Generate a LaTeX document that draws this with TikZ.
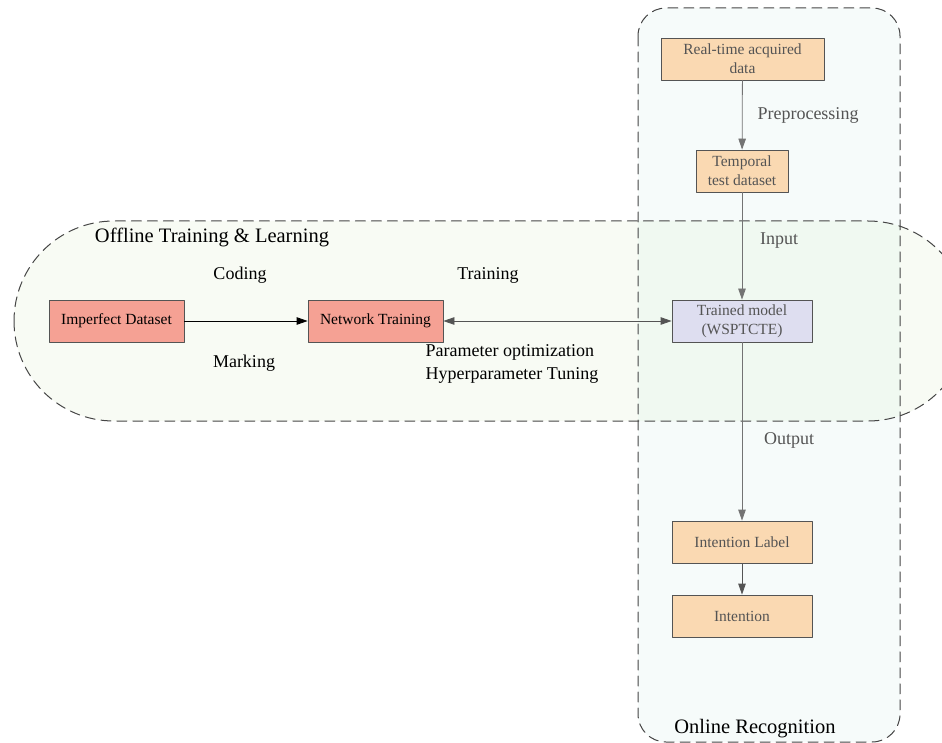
\documentclass[tikz,border=0pt]{standalone}
\usepackage{fontspec}
\setmainfont{Liberation Serif}
\usetikzlibrary{arrows.meta}
\definecolor{ffa195}{rgb}{0.96,0.63,0.58}
\definecolor{fad9b3}{rgb}{0.98,0.85,0.70}
\definecolor{dddff0}{rgb}{0.87,0.87,0.94}
\definecolor{f6faf2}{rgb}{0.972,0.985,0.957}
\definecolor{f5fbfa}{rgb}{0.966,0.986,0.982}
\definecolor{eff8ee}{rgb}{0.942,0.978,0.947}
\definecolor{qqgrey}{rgb}{0.33,0.33,0.33}
\definecolor{ttgrey}{rgb}{0.45,0.45,0.45}
\definecolor{ddgrey}{rgb}{0.27,0.27,0.27}

\begin{document}
\begin{tikzpicture}[line cap=round,line join=round,>={Triangle[length=11pt,width=7.5pt]},x=1pt,y=-1pt,
    box/.style={draw=qqgrey,line width=0.8pt,minimum height=42pt,inner sep=2pt,align=center,font=\fontsize{15.5}{19}\selectfont},
    redbox/.style={box,fill=ffa195,minimum width=135pt},
    bluebox/.style={box,fill=dddff0,text=qqgrey,minimum width=140pt},
    orangebox/.style={box,fill=fad9b3,text=qqgrey,minimum width=140pt},
    lbl/.style={font=\fontsize{18}{23}\selectfont},
    title/.style={font=\fontsize{20.5}{24}\selectfont},
    region/.style={dash pattern=on 10pt off 6pt,line width=1pt,color=ddgrey}]
      \useasboundingbox (0,0) rectangle (942,743);
      % regions
      \begin{scope}
      \clip (0,0) rectangle (942,743);
      \fill [color=f6faf2,rounded corners=100pt] (14,221) rectangle (968,421);
      \fill [color=f5fbfa,rounded corners=28pt] (638,8) rectangle (900,742);
      \begin{scope}
      \clip [rounded corners=100pt] (14,221) rectangle (968,421);
      \fill [color=eff8ee] (638,8) rectangle (900,742);
      \end{scope}
      \draw [region,rounded corners=100pt] (14,221) rectangle (968,421);
      \draw [region,rounded corners=28pt] (638,8) rectangle (900,742);
      \end{scope}
      \node[title] (offline) at (212,237) {Offline Training \& Learning};
      \node[title] (online) at (755,729) {Online Recognition};
      % offline part
      \node[redbox] (imperfect) at (116.5,321) {Imperfect Dataset};
      \node[redbox] (network) at (375.5,321) {Network Training};
      \node[lbl] (coding) at (240,275) {Coding};
      \node[lbl] (marking) at (244,363) {Marking};
      \node[lbl] (training) at (488,275) {Training};
      \node[lbl,anchor=west,align=left] (tuning) at (422,364) {Parameter optimization\\Hyperparameter Tuning};
      % online part
      \node[orangebox,minimum width=163pt] (realtime) at (742.5,59) {Real-time acquired\\data};
      \node[orangebox,minimum width=92pt] (temporal) at (742,171) {Temporal\\test dataset};
      \node[bluebox] (model) at (742,321) {Trained model\\(WSPTCTE)};
      \node[orangebox] (intentlabel) at (742,542) {Intention Label};
      \node[orangebox] (intention) at (742,616) {Intention};
      \node[lbl,text=qqgrey] (preproc) at (808,115) {Preprocessing};
      \node[lbl,text=qqgrey] (input) at (779,241) {Input};
      \node[lbl,text=qqgrey] (output) at (789,440) {Output};
      % connectors
      \draw [->,line width=0.8pt] (imperfect) -- (network);
      \draw [<->,line width=0.8pt,color=qqgrey] (network) -- (model);
      \draw [->,line width=0.8pt,color=ttgrey] (realtime) -- (temporal);
      \draw [->,line width=0.8pt,color=ttgrey] (temporal) -- (model);
      \draw [->,line width=0.8pt,color=ttgrey] (model) -- (intentlabel);
      \draw [->,line width=0.8pt,color=qqgrey] (intentlabel) -- (intention);
\end{tikzpicture}
\end{document}
